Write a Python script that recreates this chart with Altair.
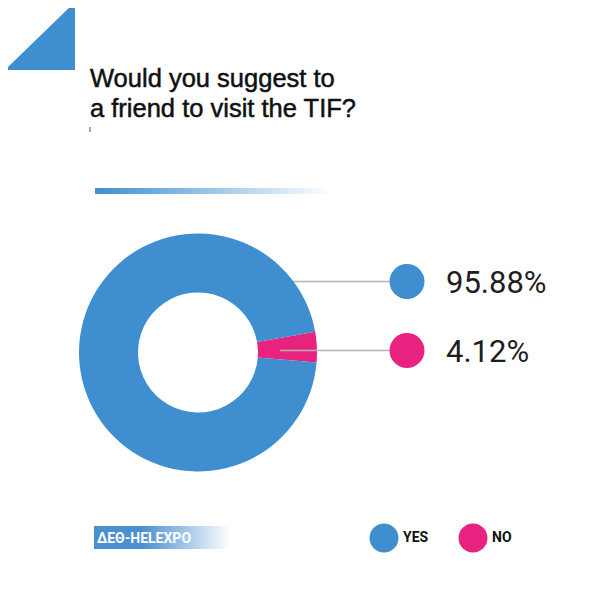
import altair as alt
import pandas as pd

# ---- data ----
categories = ["NO", "YES"]
shares = [4.12, 95.88]
labels = ["4.12%", "95.88%"]
colors = ["#e8237f", "#3f8fd0"]
title_lines = ["Would you suggest to", "a friend to visit the TIF?"]
brand = "ΔΕΘ-HELEXPO"

BLUE = "#3f8fd0"

W, H = 584, 584
OX, OY = 8, 8  # page offset

xs = alt.Scale(domain=[OX, OX + W], range=[0, W], nice=False, zero=False)
ys = alt.Scale(domain=[OY, OY + H], range=[0, H], nice=False, zero=False)

def X(f, **k):
    return alt.X(f, type="quantitative", scale=xs, axis=None, **k)

def Y(f, **k):
    return alt.Y(f, type="quantitative", scale=ys, axis=None, **k)

COND = "Roboto, sans-serif"

# ---- decorative triangle ----
tri = pd.DataFrame({"x": [5, 75], "y": [70, 2], "y2": [70, 70]})
triangle = alt.Chart(tri).mark_area(color=BLUE, opacity=1).encode(
    x=X("x"), y=Y("y"), y2="y2"
)

# ---- title ----
tdf = pd.DataFrame({"t": title_lines, "x": [90, 90], "y": [87, 117]})
title = alt.Chart(tdf).mark_text(
    align="left", baseline="alphabetic", font="Liberation Sans",
    fontSize=25.5, color="#111111", stroke="#111111", strokeWidth=0.5
).encode(x=X("x"), y=Y("y"), text="t:N")

tick = alt.Chart(pd.DataFrame({"x": [90], "y": [127], "y2": [132]})).mark_rule(
    color="#555555", strokeWidth=1
).encode(x=X("x"), y=Y("y"), y2="y2")

# ---- gradient bar ----
grad = alt.LinearGradient(
    gradient="linear",
    stops=[alt.GradientStop(color=BLUE, offset=0),
           alt.GradientStop(color="#ffffff", offset=1)],
    x1=0, x2=1, y1=0, y2=0,
)
gbar = alt.Chart(pd.DataFrame({"x": [95], "x2": [332], "y": [188], "y2": [194]})).mark_rect(
    color=grad
).encode(x=X("x"), x2="x2", y=Y("y"), y2="y2")

# ---- donut ----
donut_df = pd.DataFrame({"cat": categories, "v": shares, "o": [0, 1]})
start = 1.396
donut = alt.Chart(donut_df).mark_arc(
    radius=119, radius2=60
).encode(
    theta=alt.Theta("v:Q", stack=True, scale=alt.Scale(range=[start, start + 6.28318])),
    order=alt.Order("o:Q"),
    color=alt.Color("cat:N", scale=alt.Scale(domain=categories, range=colors), legend=None),
    x=alt.value(198 - OX),
    y=alt.value(352.5 - OY),
)

# ---- leader lines, dots, labels ----
lab = pd.DataFrame({
    "cat": categories, "label": labels,
    "y": [350.5, 281.5], "x1": [280, 292], "x2": [407, 407],
    "tx": [446, 446], "ty": [362, 293],
})
leaders = alt.Chart(lab).mark_rule(color="#b3b3b3", strokeWidth=1.5).encode(
    x=X("x1"), x2="x2", y=Y("y")
)
dots = alt.Chart(lab).mark_circle(size=1225, opacity=1).encode(
    x=X("x2"), y=Y("y"),
    color=alt.Color("cat:N", scale=alt.Scale(domain=categories, range=colors), legend=None),
)
pct = alt.Chart(lab).mark_text(
    align="left", baseline="alphabetic",
    font=COND, fontWeight="normal",
    fontSize=31, color="#1e1e1e"
).encode(x=X("tx"), y=Y("ty"), text="label:N")

# ---- brand box ----
bgrad = alt.LinearGradient(
    gradient="linear",
    stops=[alt.GradientStop(color="#4a8fd0", offset=0),
           alt.GradientStop(color="#4a8fd0", offset=0.35),
           alt.GradientStop(color="#ffffff", offset=1)],
    x1=0, x2=1, y1=0, y2=0,
)
bbox = alt.Chart(pd.DataFrame({"x": [94], "x2": [230], "y": [526], "y2": [549]})).mark_rect(
    color=bgrad
).encode(x=X("x"), x2="x2", y=Y("y"), y2="y2")
btext = alt.Chart(pd.DataFrame({"t": [brand], "x": [97], "y": [543]})).mark_text(
    align="left", baseline="alphabetic",
    font=COND, fontSize=14, fontWeight="bold", color="#ffffff"
).encode(x=X("x"), y=Y("y"), text="t:N")

# ---- legend ----
leg = pd.DataFrame({"cat": ["YES", "NO"], "cx": [384, 473], "tx": [403, 492], "y": [538, 538]})
ldots = alt.Chart(leg).mark_circle(size=841, opacity=1).encode(
    x=X("cx"), y=Y("y"),
    color=alt.Color("cat:N", scale=alt.Scale(domain=categories, range=colors), legend=None),
)
ltext = alt.Chart(leg).mark_text(
    align="left", baseline="middle",
    font=COND, fontSize=14, fontWeight="bold", color="#111111"
).encode(x=X("tx"), y=Y("y"), text="cat:N")

chart = alt.layer(
    triangle, title, tick, gbar, leaders.transform_filter(alt.datum.cat == "YES"),
    donut, leaders.transform_filter(alt.datum.cat == "NO"), dots, pct,
    bbox, btext, ldots, ltext
).properties(
    width=W, height=H, padding=0, autosize=alt.AutoSizeParams(type="none")
).configure_view(strokeWidth=0).resolve_scale(color="independent")

chart.save("out.html", embed_options={"renderer": "svg", "actions": False})
